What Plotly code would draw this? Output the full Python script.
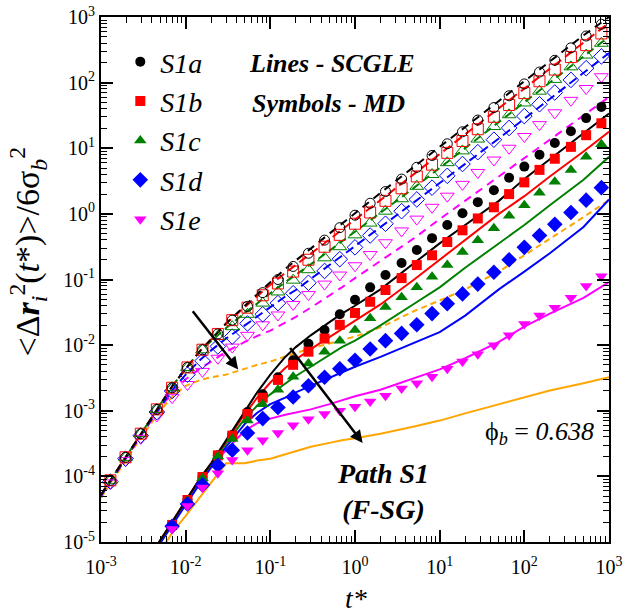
import plotly.graph_objects as go

# ---------------- data ----------------
# MD sampling times (symbols)
t_md = [0.00129, 0.00195, 0.00295, 0.00457, 0.00692, 0.0105, 0.0158, 0.0240, 0.0355,
        0.0537, 0.0813, 0.123, 0.186, 0.282, 0.437, 0.661, 1.0, 1.51, 2.29, 3.55, 5.37,
        8.13, 12.3, 18.6, 28.2, 43.7, 66.1, 100, 151, 229, 355, 537, 813]
t_md_b = [0.00692, 0.0105, 0.0158, 0.0240, 0.0355, 0.0537, 0.0813, 0.123, 0.186, 0.282,
          0.437, 0.661, 1.0, 1.51, 2.29, 3.55, 5.37, 8.13, 12.3, 18.6, 28.2, 43.7, 66.1,
          100, 151, 229, 355, 537, 813]

# open symbols (upper family)
S1a_open = [8.71e-5, 1.95e-4, 4.47e-4, 1.05e-3, 2.24e-3, 4.57e-3, 8.51e-3, 1.48e-2, 2.40e-2,
            3.89e-2, 6.31e-2, 0.100, 0.158, 0.251, 0.398, 0.617, 0.955, 1.45, 2.19, 3.39,
            5.13, 7.76, 11.7, 17.8, 26.9, 41.7, 63.1, 95.5, 145, 219, 339, 513, 776]
S1b_open = [8.71e-5, 1.95e-4, 4.47e-4, 1.05e-3, 2.24e-3, 4.57e-3, 8.51e-3, 1.48e-2, 2.40e-2,
            3.72e-2, 5.75e-2, 8.71e-2, 0.132, 0.200, 0.316, 0.479, 0.708, 1.05, 1.58, 2.45,
            3.72, 5.62, 8.51, 12.9, 19.5, 30.2, 45.7, 69.2, 105, 158, 245, 372, 562]
S1c_open = [8.71e-5, 1.95e-4, 4.47e-4, 1.05e-3, 2.24e-3, 4.57e-3, 8.51e-3, 1.35e-2, 1.91e-2,
            2.95e-2, 4.37e-2, 6.46e-2, 9.77e-2, 0.141, 0.214, 0.316, 0.479, 0.724, 1.10, 1.70,
            2.63, 3.98, 6.03, 9.12, 13.8, 21.4, 32.4, 49.0, 74.1, 112, 174, 263, 398]
S1d_open = [8.32e-5, 1.86e-4, 4.17e-4, 9.55e-4, 2.00e-3, 3.55e-3, 5.75e-3, 9.55e-3, 1.35e-2,
            2.14e-2, 2.95e-2, 4.37e-2, 6.17e-2, 8.91e-2, 0.135, 0.204, 0.309, 0.468, 0.708,
            1.10, 1.66, 2.51, 3.80, 5.75, 8.71, 13.5, 20.4, 30.9, 46.8, 70.8, 110, 166, 251]
S1e_open = [7.94e-5, 1.74e-4, 3.80e-4, 8.32e-4, 1.58e-3, 2.51e-3, 3.98e-3, 6.31e-3, 9.33e-3,
            1.41e-2, 2.04e-2, 2.88e-2, 4.17e-2, 5.89e-2, 8.51e-2, 0.117, 0.162, 0.240, 0.363,
            0.550, 0.832, 1.26, 1.86, 2.82, 4.27, 6.61, 10.0, 15.1, 22.9, 34.7, 53.7, 81.3, 123]

# filled symbols (lower family)
S1a_fill = [1.82e-5, 4.37e-5, 9.77e-5, 2.09e-4, 4.27e-4, 9.55e-4, 1.78e-3, 3.24e-3, 5.89e-3,
            1.05e-2, 1.70e-2, 2.95e-2, 4.90e-2, 7.59e-2, 0.117, 0.178, 0.282, 0.427, 0.676,
            1.02, 1.51, 2.29, 3.55, 5.25, 7.94, 12.0, 18.2, 28.8, 42.7]
S1b_fill = [1.82e-5, 4.37e-5, 9.77e-5, 2.09e-4, 4.17e-4, 8.91e-4, 1.58e-3, 2.95e-3, 5.01e-3,
            7.94e-3, 1.26e-2, 2.04e-2, 3.09e-2, 4.57e-2, 6.92e-2, 0.105, 0.166, 0.234, 0.372,
            0.562, 0.851, 1.26, 2.00, 3.02, 4.68, 6.92, 10.5, 15.8, 24.0]
S1c_fill = [1.82e-5, 4.27e-5, 9.33e-5, 2.00e-4, 3.72e-4, 7.08e-4, 1.26e-3, 2.09e-3, 3.31e-3,
            5.25e-3, 7.94e-3, 1.17e-2, 1.70e-2, 2.57e-2, 3.80e-2, 5.37e-2, 7.59e-2, 0.110,
            0.166, 0.263, 0.398, 0.603, 0.933, 1.35, 2.09, 3.09, 4.68, 7.41, 11.5]
S1d_fill = [1.74e-5, 3.80e-5, 7.41e-5, 1.48e-4, 2.51e-4, 4.57e-4, 7.59e-4, 1.12e-3, 1.62e-3,
            2.40e-3, 3.24e-3, 4.37e-3, 5.89e-3, 8.71e-3, 1.17e-2, 1.51e-2, 2.04e-2, 3.02e-2,
            4.27e-2, 6.03e-2, 8.51e-2, 0.129, 0.200, 0.309, 0.468, 0.692, 1.05, 1.62, 2.51]
S1e_fill = [1.58e-5, 3.55e-5, 6.76e-5, 1.12e-4, 1.78e-4, 2.51e-4, 3.55e-4, 4.57e-4, 6.03e-4,
            7.41e-4, 8.91e-4, 1.00e-3, 1.15e-3, 1.38e-3, 1.70e-3, 2.19e-3, 2.63e-3, 3.31e-3,
            4.37e-3, 5.62e-3, 7.24e-3, 1.00e-2, 1.41e-2, 2.09e-2, 2.82e-2, 3.72e-2, 5.25e-2,
            7.94e-2, 0.112]

# SCGLE theory curves
t_th_up = [0.001, 0.0015, 0.002, 0.003, 0.005, 0.007, 0.01, 0.015, 0.02, 0.03, 0.05, 0.07,
           0.1, 0.15, 0.2, 0.3, 0.5, 0.7, 1, 2, 5, 10, 20, 50, 100, 200, 500, 1000]
S1a_th_up = [5.25e-5, 1.17e-4, 2.04e-4, 4.68e-4, 1.26e-3, 2.40e-3, 4.37e-3, 8.32e-3, 1.23e-2,
             2.14e-2, 3.98e-2, 6.03e-2, 9.12e-2, 0.145, 0.195, 0.302, 0.513, 0.724, 1.05,
             2.09, 5.25, 10.5, 20.9, 52.5, 105, 209, 525, 1000]
S1b_th_up = [5.25e-5, 1.17e-4, 2.04e-4, 4.68e-4, 1.26e-3, 2.40e-3, 4.37e-3, 8.32e-3, 1.23e-2,
             2.14e-2, 3.80e-2, 5.62e-2, 8.32e-2, 0.126, 0.166, 0.251, 0.407, 0.575, 0.813,
             1.62, 4.07, 8.13, 16.2, 40.7, 81.3, 162, 407, 813]
S1c_th_up = [5.25e-5, 1.17e-4, 2.04e-4, 4.68e-4, 1.26e-3, 2.40e-3, 4.37e-3, 8.32e-3, 1.15e-2,
             1.82e-2, 3.09e-2, 4.37e-2, 6.17e-2, 9.12e-2, 0.117, 0.170, 0.275, 0.380, 0.525,
             1.02, 2.51, 5.01, 10.0, 25.1, 50.1, 100, 251, 501]
S1d_th_up = [5.01e-5, 1.12e-4, 1.95e-4, 4.37e-4, 1.15e-3, 2.09e-3, 3.55e-3, 6.03e-3, 8.32e-3,
             1.26e-2, 2.00e-2, 2.75e-2, 3.80e-2, 5.50e-2, 6.92e-2, 0.102, 0.162, 0.229, 0.316,
             0.617, 1.51, 2.95, 5.75, 14.1, 28.2, 56.2, 141, 282]
S1e_th_up = [5.01e-5, 1.12e-4, 1.95e-4, 4.27e-4, 1.12e-3, 1.91e-3, 3.02e-3, 4.47e-3, 5.62e-3,
             7.94e-3, 1.12e-2, 1.38e-2, 1.66e-2, 2.19e-2, 2.69e-2, 3.72e-2, 5.62e-2, 7.59e-2,
             0.105, 0.191, 0.427, 0.832, 1.58, 3.72, 7.08, 13.5, 31.6, 60.3]
S1f_th_up = [4.68e-5, 1.05e-4, 1.82e-4, 3.98e-4, 1.00e-3, 1.66e-3, 2.40e-3, 2.95e-3, 3.24e-3,
             3.55e-3, 4.37e-3, 5.01e-3, 5.62e-3, 6.76e-3, 7.59e-3, 8.91e-3, 1.07e-2, 1.20e-2,
             1.35e-2, 1.86e-2, 3.31e-2, 4.79e-2, 7.08e-2, 0.132, 0.234, 0.417, 0.891, 1.62]

t_th_lo = [0.003, 0.005, 0.007, 0.01, 0.015, 0.02, 0.03, 0.05, 0.07, 0.1, 0.15, 0.2, 0.3,
           0.5, 0.7, 1, 2, 5, 10, 20, 50, 100, 200, 500, 1000]
S1a_th_lo = [3.80e-6, 1.05e-5, 2.09e-5, 4.17e-5, 9.55e-5, 1.58e-4, 3.55e-4, 1.00e-3, 1.91e-3,
             3.55e-3, 6.61e-3, 9.33e-3, 1.41e-2, 2.24e-2, 3.02e-2, 3.98e-2, 7.08e-2, 0.178,
             0.355, 0.676, 1.58, 3.39, 6.76, 16.6, 33.9]
S1b_th_lo = [3.80e-6, 1.05e-5, 2.09e-5, 4.17e-5, 9.55e-5, 1.58e-4, 3.39e-4, 8.91e-4, 1.58e-3,
             2.69e-3, 4.47e-3, 6.03e-3, 8.71e-3, 1.32e-2, 1.74e-2, 2.34e-2, 4.17e-2, 0.100,
             0.200, 0.398, 1.00, 1.86, 3.72, 8.91, 17.8]
S1c_th_lo = [3.80e-6, 1.05e-5, 2.04e-5, 4.07e-5, 9.33e-5, 1.51e-4, 3.16e-4, 7.59e-4, 1.20e-3,
             1.78e-3, 2.63e-3, 3.39e-3, 4.68e-3, 7.08e-3, 9.33e-3, 1.17e-2, 2.00e-2, 4.27e-2,
             7.59e-2, 0.151, 0.355, 0.676, 1.35, 3.31, 7.41]
S1d_th_lo = [3.55e-6, 9.55e-6, 1.91e-5, 3.80e-5, 8.32e-5, 1.41e-4, 2.82e-4, 6.31e-4, 9.33e-4,
             1.26e-3, 1.58e-3, 1.91e-3, 2.40e-3, 3.16e-3, 3.89e-3, 4.68e-3, 6.61e-3, 1.07e-2,
             1.58e-2, 2.82e-2, 7.08e-2, 0.132, 0.251, 0.631, 1.66]
S1e_th_lo = [3.55e-6, 1.00e-5, 2.00e-5, 3.98e-5, 8.32e-5, 1.35e-4, 2.51e-4, 5.01e-4, 6.46e-4,
             7.59e-4, 8.71e-4, 9.33e-4, 1.05e-3, 1.26e-3, 1.45e-3, 1.66e-3, 2.09e-3, 3.16e-3,
             4.27e-3, 6.31e-3, 1.12e-2, 1.91e-2, 3.02e-2, 5.25e-2, 9.12e-2]
S1f_th_lo = [2.51e-6, 7.08e-6, 1.41e-5, 2.51e-5, 5.01e-5, 7.94e-5, 1.58e-4, 1.58e-4, 1.74e-4,
             1.86e-4, 2.19e-4, 2.40e-4, 2.82e-4, 3.24e-4, 3.55e-4, 3.80e-4, 4.47e-4, 5.75e-4,
             7.08e-4, 9.12e-4, 1.26e-3, 1.58e-3, 2.04e-3, 2.63e-3, 3.24e-3]

series_names = ["S1a", "S1b", "S1c", "S1d", "S1e"]
decade_vals = [1e-5, 1e-4, 1e-3, 1e-2, 1e-1, 1, 10, 100, 1000]
decade_text = ["10<sup>-5</sup>", "10<sup>-4</sup>", "10<sup>-3</sup>", "10<sup>-2</sup>",
               "10<sup>-1</sup>", "10<sup>0</sup>", "10<sup>1</sup>", "10<sup>2</sup>",
               "10<sup>3</sup>"]

# ---------------- styling ----------------
FONT = "Liberation Serif"
colors = ["#000000", "#ff0000", "#008000", "#0000ff", "#ff00ff"]
orange = "#ffa500"
sym_fill = ["circle", "square", "triangle-up", "diamond", "triangle-down"]
sym_open = ["circle-open", "square-open", "triangle-up-open", "diamond-open", "triangle-down-open"]
msize_fill = [10, 10, 11, 12, 11]
msize_open = [10, 11, 12, 12, 12]
dashes = ["8px,6px", "9px,5px", "8px,5px", "9px,5px", "8px,6px"]

fig = go.Figure()

up_lines = [S1a_th_up, S1b_th_up, S1c_th_up, S1d_th_up, S1e_th_up]
lo_lines = [S1a_th_lo, S1b_th_lo, S1c_th_lo, S1d_th_lo, S1e_th_lo]
open_pts = [S1a_open, S1b_open, S1c_open, S1d_open, S1e_open]
fill_pts = [S1a_fill, S1b_fill, S1c_fill, S1d_fill, S1e_fill]

# dashed theory (upper family)
fig.add_trace(go.Scatter(x=t_th_up, y=S1f_th_up, mode="lines", showlegend=False,
                         line=dict(color=orange, width=2, dash="6px,4px")))
for i in range(4, -1, -1):
    fig.add_trace(go.Scatter(x=t_th_up, y=up_lines[i], mode="lines", showlegend=False,
                             line=dict(color=colors[i], width=2, dash=dashes[i])))
# solid theory (lower family)
fig.add_trace(go.Scatter(x=t_th_lo, y=S1f_th_lo, mode="lines", showlegend=False,
                         line=dict(color=orange, width=2)))
for i in range(4, -1, -1):
    fig.add_trace(go.Scatter(x=t_th_lo, y=lo_lines[i], mode="lines", showlegend=False,
                             line=dict(color=colors[i], width=2)))
# open symbols
for i in range(4, -1, -1):
    fig.add_trace(go.Scatter(x=t_md, y=open_pts[i], mode="markers", showlegend=False,
                             marker=dict(symbol=sym_open[i], size=msize_open[i], color=colors[i],
                                         line=dict(width=1, color=colors[i]))))
# filled symbols (legend)
for i in range(5):
    fig.add_trace(go.Scatter(x=t_md_b, y=fill_pts[i], mode="markers",
                             name="<i>" + series_names[i] + "</i>",
                             marker=dict(symbol=sym_fill[i], size=msize_fill[i], color=colors[i],
                                         line=dict(width=0))))

minor_vals = [m * 10.0 ** e for e in range(-5, 3) for m in range(2, 10)]

axis_common = dict(
    type="log", showgrid=False, zeroline=False, showline=True, linecolor="black",
    linewidth=2, mirror="allticks", ticks="inside", ticklen=12, tickwidth=1.5,
    tickcolor="black", tickmode="array", tickvals=decade_vals, ticktext=decade_text,
    tickfont=dict(family=FONT, size=20, color="black"), automargin=False,
    minor=dict(ticks="inside", ticklen=6, tickwidth=1, tickcolor="black",
               tickmode="array", tickvals=minor_vals, showgrid=False),
)

fig.update_layout(
    width=624, height=613,
    margin=dict(l=101, r=15, t=17, b=71, autoexpand=False),
    paper_bgcolor="white", plot_bgcolor="white",
    font=dict(family=FONT, color="black"),
    xaxis=dict(axis_common, range=[-3, 3], ticklabelstandoff=6),
    yaxis=dict(axis_common, range=[-5, 3]),
    legend=dict(x=0.038, y=0.962, xanchor="left", yanchor="top",
                font=dict(family=FONT, size=28, color="black"),
                bgcolor="rgba(0,0,0,0)", itemsizing="trace", tracegroupgap=0),
)

ann = []
# arrows (positions in log10 units of the axes)
ann.append(dict(x=-1.38, y=-2.37, ax=-1.93, ay=-1.46, xref="x", yref="y", axref="x", ayref="y",
                showarrow=True, arrowhead=2, arrowsize=1, arrowwidth=2.5, arrowcolor="black", text=""))
ann.append(dict(x=0.09, y=-3.49, ax=-0.78, ay=-2.02, xref="x", yref="y", axref="x", ayref="y",
                showarrow=True, arrowhead=2, arrowsize=1, arrowwidth=2.5, arrowcolor="black", text=""))


def label(text, x, y, size, angle=0):
    return dict(text=text, x=x, y=y, xref="paper", yref="paper", xanchor="center",
                yanchor="middle", showarrow=False, textangle=angle,
                font=dict(family=FONT, size=size, color="black"))


ann.append(label("<b><i>Lines - SCGLE</i></b>", 0.454, 0.912, 26))
ann.append(label("<b><i>Symbols - MD</i></b>", 0.448, 0.836, 26))
ann.append(label("ϕ<sub><i>b</i></sub> = <i>0.638</i>", 0.864, 0.207, 26))
ann.append(label("<b><i>Path S1</i></b><br><b><i>(F-SG)</i></b>", 0.556, 0.096, 28))
ann.append(label("<i>t*</i>", 0.502, -0.1085, 28))
ann.append(label("&lt;Δ<b><i>r</i></b><sub><i>i</i></sub><sup>2</sup>(<i>t</i>*)&gt;/6σ<sub><i>b</i></sub><sup>2</sup>",
                 -0.144, 0.553, 34, angle=-90))
fig.update_layout(annotations=ann)

fig.write_html("out.html", config={"displayModeBar": False},
               post_script="document.body.style.margin='0px';document.body.style.overflow='hidden';")
